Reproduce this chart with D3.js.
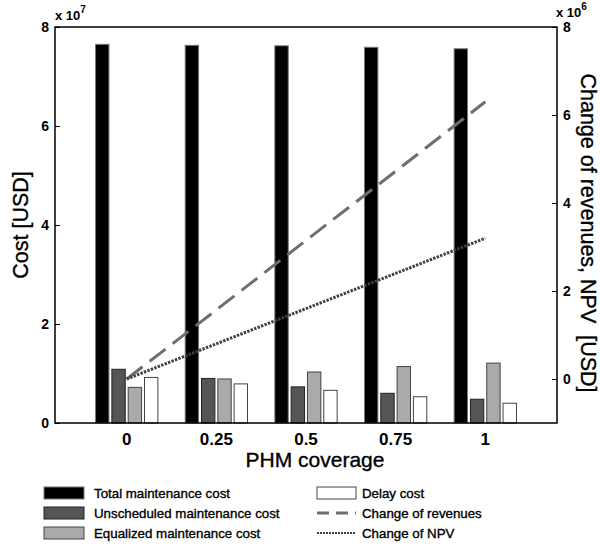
<!DOCTYPE html>
<html>
<head>
<meta charset="utf-8">
<script src="https://cdn.jsdelivr.net/npm/d3@7"></script>
<style>
  body { margin: 0; background: #fff; }
  svg { font-family: 'Liberation Sans', Arial, sans-serif; }
  .axis path { display: none; }
  .axis text { font-weight: bold; font-size: 14px; fill: #000; }
  .axis line { stroke: #000; stroke-width: 1; }
  .heavy { stroke: #000; stroke-width: 0.35px; }
</style>
</head>
<body>
<div id="chart"></div>
<script>
// PHM coverage categories
const coverage = ['0', '0.25', '0.5', '0.75', '1'];

// costs, x 10^7 USD (left axis)
const totalCost = [7.65, 7.63, 7.62, 7.59, 7.56];
const unscheduledCost = [1.085, 0.90, 0.73, 0.60, 0.48];
const equalizedCost = [0.72, 0.89, 1.03, 1.14, 1.21];
const delayCost = [0.92, 0.79, 0.66, 0.53, 0.40];

// x 10^6 USD (right axis)
const revenueChange = [0, 1.57, 3.15, 4.72, 6.30];
const npvChange = [0, 0.80, 1.60, 2.40, 3.20];

const leftTicks = [0, 2, 4, 6, 8];
const rightTicks = [0, 2, 4, 6, 8];

const barSeries = [
  { key: 'total', label: 'Total maintenance cost', values: totalCost, fill: '#000', stroke: '#777' },
  { key: 'unscheduled', label: 'Unscheduled maintenance cost', values: unscheduledCost, fill: '#555', stroke: '#222' },
  { key: 'equalized', label: 'Equalized maintenance cost', values: equalizedCost, fill: '#aaa', stroke: '#444' },
  { key: 'delay', label: 'Delay cost', values: delayCost, fill: '#fff', stroke: '#444' },
];

const lineSeries = [
  { key: 'revenues', label: 'Change of revenues', values: revenueChange, stroke: '#6e6e6e', dash: '20,9', legendDash: '12,7' },
  { key: 'npv', label: 'Change of NPV', values: npvChange, stroke: '#404040', dash: '2.4,1.3', legendDash: '2,1' },
];

const width = 600;
const height = 548;
const margin = { top: 27, right: 43, bottom: 125, left: 55 };
const innerW = width - margin.left - margin.right;
const innerH = height - margin.top - margin.bottom;

const svg = d3.select('#chart').append('svg')
    .attr('width', width)
    .attr('height', height);

const g = svg.append('g')
    .attr('transform', `translate(${margin.left}, ${margin.top})`);

const x0 = d3.scaleBand()
    .domain(coverage)
    .range([0, innerW])
    .paddingInner(0)
    .paddingOuter(0.3);

const groupW = 62.3;
const x1 = d3.scaleBand()
    .domain(barSeries.map(s => s.key))
    .range([-groupW / 2, groupW / 2])
    .paddingInner(0.18);

const yLeft = d3.scaleLinear().domain([0, 8]).range([innerH, 0]);
const yRight = d3.scaleLinear().domain([-1, 8]).range([innerH, 0]);

const cx = c => x0(c) + x0.bandwidth() / 2;

// bars
barSeries.forEach(s => {
  g.append('g')
      .attr('class', `bars ${s.key}`)
    .selectAll('rect')
    .data(coverage.map((c, i) => ({ c, v: s.values[i] })))
    .join('rect')
      .attr('x', d => cx(d.c) + x1(s.key))
      .attr('y', d => yLeft(d.v))
      .attr('width', x1.bandwidth())
      .attr('height', d => innerH - yLeft(d.v))
      .attr('fill', s.fill)
      .attr('stroke', s.stroke)
      .attr('stroke-width', 1);
});

// lines on right axis
lineSeries.forEach(s => {
  g.append('path')
      .datum(coverage.map((c, i) => ({ c, v: s.values[i] })))
      .attr('fill', 'none')
      .attr('stroke', s.stroke)
      .attr('stroke-width', 3)
      .attr('stroke-dasharray', s.dash)
      .attr('d', d3.line().x(d => cx(d.c)).y(d => yRight(d.v)));
});

// axes (ticks pointing inward)
g.append('g')
    .attr('class', 'axis left')
    .call(d3.axisLeft(yLeft).tickValues(leftTicks).tickSize(-5).tickPadding(6));

g.append('g')
    .attr('class', 'axis right')
    .attr('transform', `translate(${innerW}, 0)`)
    .call(d3.axisRight(yRight).tickValues(rightTicks).tickSize(-5).tickPadding(6));

const xAxis = g.append('g')
    .attr('class', 'axis bottom')
    .attr('transform', `translate(0, ${innerH})`)
    .call(d3.axisBottom(x0).tickSize(0).tickPadding(10));
xAxis.selectAll('text').style('font-size', '17px');

// frame
g.append('path')
    .attr('fill', 'none')
    .attr('stroke', '#000')
    .attr('stroke-width', 1.5)
    .attr('d', `M0,0H${innerW}V${innerH}H0Z`);

// exponent labels
const exp = (xPos, yPos, power) => {
  const t = svg.append('text')
      .attr('x', xPos)
      .attr('y', yPos)
      .style('font-weight', 'bold')
      .style('font-size', '13px')
      .text('x 10');
  t.append('tspan')
      .attr('dy', -7)
      .style('font-size', '10px')
      .text(power);
};
exp(margin.left, 20, '7');
exp(margin.left + innerW - 1, 17, '6');

// axis titles
svg.append('text')
    .attr('class', 'heavy')
    .attr('transform', `translate(28, ${margin.top + innerH / 2}) rotate(-90)`)
    .attr('text-anchor', 'middle')
    .style('font-size', '21.5px')
    .text('Cost [USD]');

svg.append('text')
    .attr('class', 'heavy')
    .attr('transform', `translate(581, ${margin.top + innerH / 2 + 8}) rotate(90)`)
    .attr('text-anchor', 'middle')
    .style('font-size', '21.5px')
    .style('white-space', 'pre')
    .text('Change of revenues, NPV  [USD]');

svg.append('text')
    .attr('class', 'heavy')
    .attr('x', 315)
    .attr('y', 467)
    .attr('text-anchor', 'middle')
    .style('font-size', '21px')
    .text('PHM coverage');

// legend
const rowY = [493, 513, 533];
const legendFont = '13.3px';
const legend = svg.append('g').attr('class', 'legend');

barSeries.slice(0, 3).forEach((s, i) => {
  legend.append('rect')
      .attr('x', 44).attr('y', rowY[i] - 6)
      .attr('width', 40).attr('height', 12)
      .attr('fill', s.fill).attr('stroke', s.stroke);
  legend.append('text')
      .attr('class', 'heavy')
      .attr('x', 94).attr('y', rowY[i] + 5)
      .style('font-size', legendFont)
      .text(s.label);
});

const delay = barSeries[3];
legend.append('rect')
    .attr('x', 317).attr('y', rowY[0] - 6)
    .attr('width', 39).attr('height', 12)
    .attr('fill', delay.fill).attr('stroke', delay.stroke);
legend.append('text')
    .attr('class', 'heavy')
    .attr('x', 362).attr('y', rowY[0] + 5)
    .style('font-size', legendFont)
    .text(delay.label);

lineSeries.forEach((s, i) => {
  legend.append('line')
      .attr('x1', 317).attr('x2', 356)
      .attr('y1', rowY[i + 1]).attr('y2', rowY[i + 1])
      .attr('stroke', s.stroke)
      .attr('stroke-width', i === 0 ? 3 : 2)
      .attr('stroke-dasharray', s.legendDash);
  legend.append('text')
      .attr('class', 'heavy')
      .attr('x', 362).attr('y', rowY[i + 1] + 5)
      .style('font-size', legendFont)
      .text(s.label);
});
</script>
</body>
</html>
